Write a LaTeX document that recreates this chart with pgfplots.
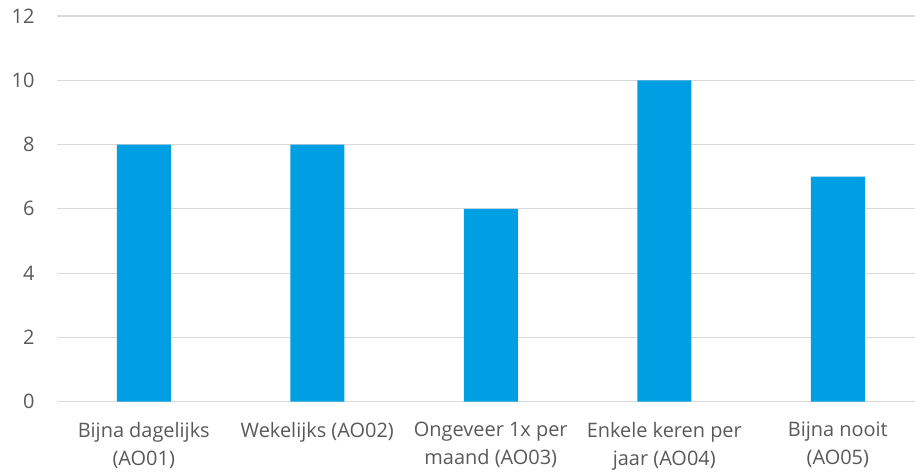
\documentclass[border=0pt]{standalone}
\usepackage{pgfplots}
\pgfplotsset{compat=1.18}
\usepackage{fontspec}
\setmainfont{Open Sans}
\definecolor{barblue}{HTML}{009FE3}
\definecolor{gridgray}{HTML}{D9D9D9}
\definecolor{textgray}{HTML}{595959}
\begin{document}
\begin{tikzpicture}
\begin{axis}[
  scale only axis,
  width=858bp, height=385.7bp,
  at={(0,0)}, anchor=south west,
  xmin=-0.5, xmax=4.445,
  ymin=0, ymax=12,
  ytick={0,2,...,12},
  xtick={0,1,2,3,4},
  xticklabels={{Bijna dagelijks\\(AO01)},{Wekelijks (AO02)},{Ongeveer 1x per\\maand (AO03)},{Enkele keren per\\jaar (AO04)},{Bijna nooit\\(AO05)}},
  ymajorgrids,
  major grid style={gridgray, line width=1.2bp},
  axis line style={draw=none},
  tick style={draw=none},
  /pgf/number format/assume math mode=true,
  ticklabel style={font=\fontsize{20}{28}\selectfont, text=textgray},
  xticklabel style={align=center, anchor=north, yshift=-17bp},
  yticklabel style={anchor=east, xshift=-19bp},
  clip=false,
]
\addplot[ybar, bar width=54bp, fill=barblue, draw=none] coordinates {
  (0,8) (1,8) (2,6) (3,10) (4,7)
};
\end{axis}
\pgfresetboundingbox
\path[use as bounding box] (-57bp,-73.3bp) rectangle (859bp,401.7bp);
\end{tikzpicture}
\end{document}
